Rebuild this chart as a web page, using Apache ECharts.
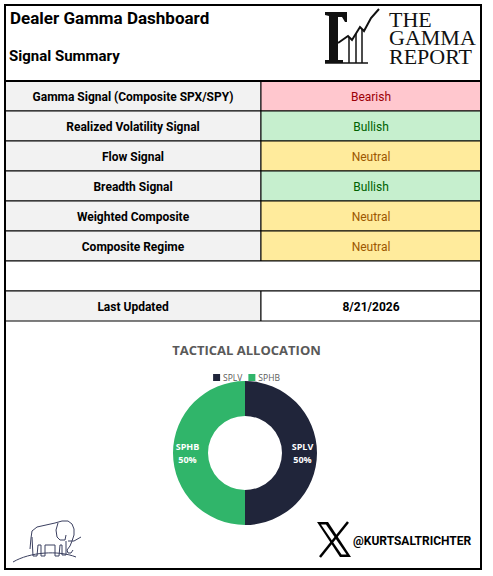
<!DOCTYPE html>
<html>
<head>
<meta charset="utf-8">
<script src="https://cdn.jsdelivr.net/npm/echarts@6/dist/echarts.min.js"></script>
<style>
  html, body { margin: 0; padding: 0; background: #ffffff; }
  #main { width: 493px; height: 576px; }
</style>
</head>
<body>
<div id="main"></div>
<script>
const SIGNAL_NAMES = [
  'Gamma Signal (Composite SPX/SPY)',
  'Realized Volatility Signal',
  'Flow Signal',
  'Breadth Signal',
  'Weighted Composite',
  'Composite Regime',
]
const SIGNAL_VALUES = ['Bearish', 'Bullish', 'Neutral', 'Bullish', 'Neutral', 'Neutral']
const UPDATED_LABEL = 'Last Updated'
const UPDATED_DATE = '8/21/2026'
const ALLOC_NAMES = ['SPLV', 'SPHB']
const ALLOC_VALUES = [50, 50]

const SIGNAL_STYLE = {
  Bearish: { fill: '#ffc7ce', color: '#9c0006' },
  Bullish: { fill: '#c6efce', color: '#006100' },
  Neutral: { fill: '#ffeb9c', color: '#9c5700' },
}
const ALLOC_COLORS = ['#20253a', '#30b56a']

const FONT = 'Roboto, "Noto Sans", sans-serif'
const SERIF = '"Liberation Serif", "DejaVu Serif", serif'

// table geometry
const L = 5, MID = 261, R = 481, TOP = 81, ROW_H = 30

const graphic = []

function cell(x, y, w, h, fill, text, color, bold) {
  graphic.push({
    type: 'rect',
    shape: { x, y, width: w, height: h },
    style: { fill, stroke: '#000', lineWidth: 1 },
    z: 1,
  })
  if (text) {
    graphic.push({
      type: 'text',
      x: x + w / 2, y: y + h / 2 + 1,
      style: {
        text, fill: color, font: `${bold ? 'bold ' : ''}12px ${FONT}`,
        align: 'center', verticalAlign: 'middle',
      },
      z: 2,
    })
  }
}

SIGNAL_NAMES.forEach((name, i) => {
  const y = TOP + i * ROW_H
  const s = SIGNAL_STYLE[SIGNAL_VALUES[i]]
  cell(L, y, MID - L, ROW_H, '#f2f2f2', name, '#000', true)
  cell(MID, y, R - MID, ROW_H, s.fill, SIGNAL_VALUES[i], s.color, false)
})
// blank row
cell(L, TOP + 6 * ROW_H, R - L, ROW_H, '#ffffff', '', '#000', false)
// last updated
cell(L, TOP + 7 * ROW_H, MID - L, ROW_H, '#f2f2f2', UPDATED_LABEL, '#000', true)
cell(MID, TOP + 7 * ROW_H, R - MID, ROW_H, '#ffffff', UPDATED_DATE, '#000', true)

// header texts
graphic.push(
  { type: 'text', x: 10, y: 18, style: { text: 'Dealer Gamma Dashboard', fill: '#000', font: `bold 17px ${FONT}`, verticalAlign: 'middle' } },
  { type: 'text', x: 9, y: 56, style: { text: 'Signal Summary', fill: '#000', font: `bold 15px ${FONT}`, verticalAlign: 'middle' } },
  { type: 'line', shape: { x1: L, y1: TOP, x2: R, y2: TOP }, style: { stroke: '#000', lineWidth: 2 }, z: 3 },
)

// logo: gamma glyph with rising chart
const INK = '#111'
graphic.push(
  { type: 'polygon', shape: { points: [[325, 12], [347, 12], [347, 22], [345, 22], [342, 17], [338, 17], [338, 60], [343, 60], [343, 63], [325, 63], [325, 60], [329, 60], [329, 16], [325, 15]] }, style: { fill: INK } },
  { type: 'polyline', shape: { points: [[338, 43], [348, 36], [352, 40], [360, 27], [364, 31], [371, 18], [379, 9]] }, style: { stroke: INK, lineWidth: 2, fill: null } },
  { type: 'line', shape: { x1: 349, y1: 37, x2: 349, y2: 63 }, style: { stroke: INK, lineWidth: 1.5 } },
  { type: 'line', shape: { x1: 356, y1: 34, x2: 356, y2: 63 }, style: { stroke: INK, lineWidth: 1.5 } },
  { type: 'line', shape: { x1: 362, y1: 29, x2: 362, y2: 63 }, style: { stroke: INK, lineWidth: 1.5 } },
  { type: 'line', shape: { x1: 325, y1: 63, x2: 368, y2: 63 }, style: { stroke: INK, lineWidth: 1.5 } },
  { type: 'text', x: 389, y: 10, style: { text: 'THE\nGAMMA\nREPORT', fill: INK, font: `22px ${SERIF}`, lineHeight: 18.5, verticalAlign: 'top' } },
)

// elephant sketch
const ELE = '#3b4060'
const eleLine = (points) => ({ type: 'polyline', shape: { points }, style: { stroke: ELE, lineWidth: 1, fill: null } })
graphic.push(
  // back, head and trunk
  eleLine([[30, 549], [31, 538], [32, 531], [37, 527], [46, 525], [55, 523], [62, 521], [68, 521], [72, 524], [74, 529], [74, 535], [72, 541], [70, 546], [67, 550], [68, 553], [71, 553], [73, 550]]),
  // ear
  eleLine([[58, 523], [56, 530], [57, 537], [60, 540], [65, 540], [66, 535]]),
  // tusk
  eleLine([[68, 541], [74, 541], [81, 537]]),
  // legs and belly
  eleLine([[32, 537], [33, 556], [37, 556], [38, 545], [41, 545], [41, 556], [45, 556], [45, 545], [55, 545], [55, 556], [59, 556], [60, 545], [62, 545], [62, 555], [66, 555], [66, 541]]),
  { type: 'bezierCurve', shape: { x1: 13, y1: 562, cpx1: 30, cpy1: 552, cpx2: 58, cpy2: 550, x2: 76, y2: 557 }, style: { stroke: ELE, lineWidth: 1, fill: null } },
)

// X logo + handle
graphic.push(
  { type: 'polygon', shape: { points: [[317, 522], [328, 522], [351, 557], [340, 557]] }, style: { fill: '#000' } },
  { type: 'polygon', shape: { points: [[321, 524.5], [326, 524.5], [346.5, 554.5], [341.5, 554.5]] }, style: { fill: '#fff' } },
  { type: 'line', shape: { x1: 348, y1: 522, x2: 320, y2: 557 }, style: { stroke: '#000', lineWidth: 2.5 } },
  { type: 'text', x: 353, y: 541, style: { text: '@KURTSALTRICHTER', fill: '#000', font: `bold 12px ${FONT}`, verticalAlign: 'middle' } },
)

// outer frame
graphic.push({
  type: 'rect',
  shape: { x: L, y: 5, width: R - L, height: 564 },
  style: { fill: null, stroke: '#000', lineWidth: 2 },
  z: 10,
})

const chart = echarts.init(document.getElementById('main'), null, { renderer: 'svg' })
chart.setOption({
  backgroundColor: '#ffffff',
  animation: false,
  title: {
    text: 'TACTICAL ALLOCATION',
    left: 'center',
    top: 338,
    textStyle: { fontFamily: '"Open Sans", sans-serif', fontSize: 13, fontWeight: 'bold', color: '#595959' },
  },
  legend: {
    top: 368,
    left: 'center',
    icon: 'rect',
    itemWidth: 7,
    itemHeight: 7,
    itemGap: 6,
    textStyle: { fontFamily: '"Open Sans", sans-serif', fontSize: 8.5, color: '#595959', padding: [0, 0, 0, -2] },
    data: ALLOC_NAMES,
  },
  graphic,
  series: [{
    type: 'pie',
    center: [245, 453],
    radius: [37, 72],
    startAngle: 90,
    label: {
      show: true,
      position: 'inside',
      formatter: '{b}\n{d}%',
      fontFamily: '"Open Sans", sans-serif',
      fontSize: 9,
      fontWeight: 'bold',
      lineHeight: 13,
      color: '#ffffff',
    },
    labelLine: { show: false },
    data: ALLOC_NAMES.map((n, i) => ({ name: n, value: ALLOC_VALUES[i], itemStyle: { color: ALLOC_COLORS[i] } })),
  }],
})
</script>
</body>
</html>
